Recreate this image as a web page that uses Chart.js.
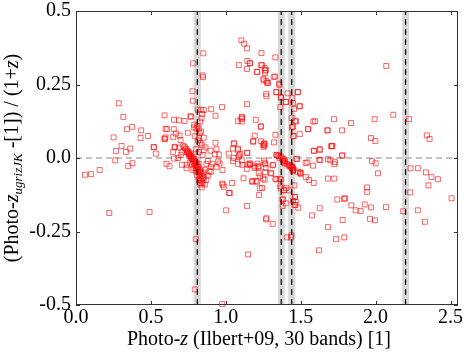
<!DOCTYPE html>
<html>
<head>
<meta charset="utf-8">
<script src="https://cdn.jsdelivr.net/npm/chart.js@4/dist/chart.umd.min.js"></script>
<style>
  html, body { margin: 0; padding: 0; background: #fff; }
  #wrap { width: 464px; height: 354px; }
</style>
</head>
<body>
<div id="wrap"><canvas id="c" width="464" height="354"></canvas></div>
<script>
// photo-z comparison: x = Ilbert+09 (30 bands), y = normalised difference

const X_TICKS = [0, 0.5, 1.0, 1.5, 2.0, 2.5];
const Y_TICKS = [-0.5, -0.25, 0, 0.25, 0.5];
const FEATURE_Z = [0.81, 1.37, 1.44, 2.2];   // dashed vertical markers

// [photo-z 30 bands, (photo-z ugrizJK - z)/(1+z)]
const lowZ = [
  [0.06,-0.057],[0.10,-0.055],[0.158,-0.041],[0.222,-0.187],[0.491,-0.184],
  [0.285,0.186],[0.316,0.140],[0.34,0.098],[0.375,0.106],[0.251,0.070],[0.435,0.094],
  [0.431,0.068],[0.48,0.075],[0.52,0.037],[0.591,0.145],[0.59,0.066],[0.597,0.07],
  [0.607,0.098],[0.653,0.098],[0.655,0.130],[0.687,0.128],[0.724,0.126],[0.667,0.083],
  [0.691,0.076],[0.698,0.061],[0.658,0.036],[0.689,0.035],[0.267,0.024],[0.304,0.041],
  [0.333,0.021],[0.362,0.032],[0.533,0.015],[0.518,0.037],[0.262,-0.008],[0.349,-0.027],
  [0.376,-0.018],[0.604,-0.02],[0.624,-0.028],[0.655,-0.002],[0.647,0.02],[0.707,-0.023],
  [0.738,-0.023],[0.738,-0.035],[0.778,-0.04],[0.716,0.041],[0.70,0.01],[0.68,0.0],
  [0.71,0.02],[0.593,0.064],[0.649,0.072],[0.66,0.038],[0.598,0.099]
];

const peakZ = [
  [0.747,0.086],[0.767,0.140],[0.78,0.195],[0.778,0.227],[0.782,0.322],[0.813,0.164],
  [0.836,0.164],[0.845,0.281],[0.848,0.275],[0.85,0.356],[0.793,0.074],[0.822,0.069],
  [0.789,0.104],[0.811,0.109],[0.842,0.150],[0.838,0.135],[0.827,0.124],[0.804,0.1],
  [0.82,0.1],[0.789,0.113],[0.764,0.142],[0.853,0.163],[0.902,0.166],[0.975,0.173],
  [0.931,0.144],[0.853,0.069],[0.864,0.036],[0.931,0.052],[0.938,0.03],[0.898,0.025],
  [0.853,0.026],[0.953,0.012],[0.927,0.012],[0.815,0.06],[0.83,0.05],[0.825,0.085],
  [0.835,0.09],[0.84,0.045],[0.8,0.03],[0.82,0.02],[0.845,0.01],
  [0.725,0.038],[0.73,0.032],[0.735,0.03],[0.74,0.025],[0.742,0.02],[0.748,0.022],
  [0.75,0.015],[0.755,0.012],[0.758,0.018],[0.76,0.008],[0.765,0.005],[0.768,0.012],
  [0.77,0.0],[0.775,-0.004],[0.778,0.004],[0.78,-0.008],[0.785,-0.012],[0.788,-0.003],
  [0.79,-0.018],[0.795,-0.01],[0.798,-0.022],[0.80,-0.028],[0.803,-0.015],[0.806,-0.035],
  [0.81,-0.025],[0.812,-0.04],[0.815,-0.03],[0.818,-0.048],[0.82,-0.02],[0.822,-0.055],
  [0.825,-0.04],[0.828,-0.062],[0.83,-0.05],[0.833,-0.07],[0.836,-0.045],[0.838,-0.078],
  [0.84,-0.06],[0.845,-0.085],[0.848,-0.07],[0.85,-0.05],[0.855,-0.065],[0.86,-0.04],
  [0.8,-0.045],[0.79,-0.035],[0.775,-0.02],[0.81,-0.06],[0.82,-0.075],[0.83,-0.09],
  [0.84,-0.1],[0.76,-0.015],[0.833,-0.085],[0.86,-0.09],[0.87,-0.075],[0.88,-0.06],
  [0.89,-0.045],[0.9,-0.03],[0.87,-0.02],[0.88,-0.01],[0.91,-0.02],[0.949,-0.012],
  [0.938,-0.03],[0.978,-0.041],[0.9,-0.047],[0.958,-0.019],
  [0.8,-0.276],[0.793,-0.447],[0.976,-0.497],[0.976,-0.087],[1.022,-0.119],[1.002,-0.178]
];

const midZ = [
  [1.02,0.015],[1.056,0.049],[1.047,0.032],[1.082,0.032],[1.096,0.014],[1.144,0.017],
  [1.084,0.003],[1.047,-0.011],[1.082,-0.02],[1.109,-0.023],[1.149,-0.023],[1.158,-0.021],
  [1.14,-0.037],[1.191,-0.034],[1.22,-0.028],[1.26,-0.016],[1.313,-0.025],[1.22,-0.051],
  [1.229,-0.062],[1.249,-0.070],[1.262,-0.048],[1.267,-0.034],[1.30,-0.052],[1.176,-0.081],
  [1.209,-0.081],[1.26,-0.074],[1.118,-0.069],[0.98,-0.091],[0.987,-0.098],[1.042,-0.085],
  [1.027,-0.119],[1.222,-0.126],[1.242,-0.102],[1.142,-0.163],[1.269,-0.209],[1.313,-0.224],
  [1.149,-0.328],[1.331,-0.071],[1.36,-0.071],[1.364,-0.096],[1.387,-0.11],[1.424,-0.11],
  [1.404,-0.102],[1.378,-0.141],[1.38,-0.163],[1.409,-0.27],[1.436,-0.27],[1.438,-0.263],
  [1.458,-0.093],[1.462,-0.133],[1.467,-0.149],[1.46,-0.16],[1.484,-0.169],
  [1.38,-0.005],[1.385,-0.01],[1.39,-0.008],[1.388,-0.015],[1.395,-0.012],[1.383,-0.002],
  [1.392,-0.018],[1.43,-0.025],[1.436,-0.028],[1.44,-0.032],[1.445,-0.03],[1.45,-0.036],
  [1.453,-0.04],[1.447,-0.045],[1.37,0.005],[1.36,0.0],[1.35,0.008],[1.34,0.011],
  [1.338,0.01],[1.41,-0.02],[1.42,-0.025],
  [1.304,-0.052],[1.338,-0.073],[1.367,-0.073],[1.178,-0.078],[1.2,-0.078],[1.227,-0.103],
  [1.271,-0.205],[1.367,-0.103],[1.389,-0.109],[1.382,-0.141],[1.4,-0.154],[1.449,-0.146],
  [1.464,-0.16],[1.46,-0.132],[1.427,-0.029],[1.442,-0.035],[1.449,-0.041],[1.482,-0.047],
  [1.498,-0.054],[1.16,-0.018],[1.216,-0.03],
  [1.142,0.373],[1.122,0.389],[1.104,0.40],[1.144,0.33],[1.162,0.323],[1.142,0.303],
  [1.087,0.316],[1.142,0.183],[1.082,0.125],[1.104,0.133],[1.107,0.14],[1.2,0.13],
  [1.236,0.108],[1.193,0.076],[1.182,0.055],[1.25,0.044],[1.255,0.048],[1.26,0.042],
  [1.252,0.038],[1.258,0.05],[1.322,0.053],[1.331,0.079],[1.053,0.05],[1.08,0.028],
  [1.053,0.0],[1.089,0.009],[1.107,-0.008],[1.142,0.018],[1.164,-0.023],[1.196,-0.029],
  [1.211,-0.019],[1.256,-0.009],[1.264,-0.021],[1.316,-0.023],[1.351,0.006],
  [1.238,0.357],[1.236,0.316],[1.211,0.293],[1.262,0.297],[1.253,0.264],[1.276,0.256],
  [1.282,0.255],[1.269,0.218],[1.329,0.277],[1.331,0.342],[1.338,0.224],[1.251,0.269],
  [1.271,0.261],[1.32,0.276],[1.271,0.21],[1.26,0.306],[1.269,0.3],[1.207,0.293],
  [1.16,0.322],[1.242,0.315],[1.262,0.289],[1.109,0.137],[1.107,0.124],[1.233,0.106],
  [1.236,0.057],[1.184,0.058],
  [1.369,0.205],[1.364,0.173],[1.358,0.249],[1.4,0.191],[1.413,0.22],[1.356,0.253],
  [1.336,0.224],[1.367,0.207],[1.402,0.19],[1.48,0.224],[1.482,0.224],[1.491,0.176],
  [1.496,0.176],[1.456,0.167],[1.449,0.186],[1.444,0.204],[1.44,0.136],[1.469,0.124],
  [1.462,0.127],[1.449,0.107],[1.442,0.104],[1.451,0.075],[1.453,0.074],[1.493,0.081]
];

const highZ = [
  [1.471,-0.003],[1.533,-0.017],[1.582,-0.026],[1.624,-0.006],[1.682,-0.004],[1.498,-0.051],
  [1.536,-0.065],[1.556,-0.075],[1.587,-0.085],[1.682,-0.07],[1.627,-0.171],[1.576,-0.195],
  [1.682,-0.235],[1.622,-0.314],[1.729,-0.014],[1.724,-0.021],[1.724,-0.07],[1.976,-0.011],
  [2.0,-0.018],[2.016,-0.052],[1.942,-0.1],[1.944,-0.115],[1.744,-0.141],[1.789,-0.139],
  [1.796,-0.137],[1.838,-0.161],[1.867,-0.178],[1.9,-0.180],[1.927,-0.158],[1.969,-0.168],
  [2.069,-0.167],[1.78,-0.211],[1.962,-0.207],[1.996,-0.212],[1.736,-0.276],[1.791,-0.27],
  [2.233,-0.035],[2.282,-0.035],[2.336,-0.049],[2.373,-0.065],[2.416,-0.072],[2.353,-0.093],
  [2.231,-0.117],[2.184,-0.181],[2.282,-0.178],[2.329,-0.217],[2.507,-0.137],
  [2.071,0.313],[1.722,0.132],[1.836,0.119],[1.993,0.132],[2.118,0.147],[2.224,0.132],
  [1.776,0.094],[1.969,0.068],[1.998,0.058],[1.711,0.04],[1.776,0.009],[2.342,0.077],
  [2.36,0.065],[1.678,0.094],[1.596,0.125],[1.551,0.099],[1.476,-0.003],[1.496,-0.049],
  [1.544,-0.015],[1.587,0.025],[1.627,0.027],[1.631,-0.007],[1.698,-0.008],[1.709,0.041],
  [1.778,0.008],[1.584,0.124],[1.549,0.098],[1.68,0.094],[1.627,0.031],[1.589,0.024],
  [1.702,0.04]
];

const X_MIN = 0, X_MAX = 2.55, Y_MIN = -0.5, Y_MAX = 0.5;
const SERIF = '"Liberation Serif", "DejaVu Serif", serif';
const POINT_RED = 'rgba(255,0,0,0.6)';

const toXY = arr => arr.map(([x, y]) => ({ x, y }));
const allPoints = [...lowZ, ...peakZ, ...midZ, ...highZ];

const datasets = [];
// dashed marker lines (on top)
FEATURE_Z.forEach(z => datasets.push({
  type: 'line', data: [{ x: z, y: Y_MIN }, { x: z, y: Y_MAX }],
  borderColor: '#000', borderWidth: 1.2, borderDash: [6, 4],
  pointRadius: 0, fill: false, order: 0,
}));
datasets.push({
  type: 'scatter', data: toXY(allPoints),
  pointStyle: 'rect', pointRadius: 3.5, borderWidth: 1,
  borderColor: POINT_RED, backgroundColor: 'rgba(0,0,0,0)',
  clip: false, order: 1,
});
// grey bands behind
FEATURE_Z.forEach(z => datasets.push({
  type: 'line', data: [{ x: z, y: Y_MIN }, { x: z, y: Y_MAX }],
  borderColor: 'rgba(190,190,190,0.6)', borderWidth: 7,
  pointRadius: 0, fill: false, order: 2,
}));
datasets.push({
  type: 'line', data: [{ x: X_MIN, y: 0 }, { x: X_MAX, y: 0 }],
  borderColor: '#888', borderWidth: 1, borderDash: [6, 4],
  pointRadius: 0, fill: false, order: 3,
});

function drawRich(ctx, parts, x, y) {
  const fontOf = p => (p.it ? 'italic ' : '') + (p.sub ? 13 : 20) + 'px ' + SERIF;
  let total = 0;
  parts.forEach(p => { ctx.font = fontOf(p); total += ctx.measureText(p.t).width; });
  let cx = x - total / 2;
  parts.forEach(p => {
    ctx.font = fontOf(p);
    ctx.fillText(p.t, cx, y + (p.sub ? 4 : 0));
    cx += ctx.measureText(p.t).width;
  });
}

const framePlugin = {
  id: 'frame',
  afterDraw(chart) {
    const { ctx, chartArea: a, scales } = chart;
    ctx.save();
    ctx.strokeStyle = '#333';
    ctx.lineWidth = 1;
    ctx.strokeRect(a.left + 0.5, a.top + 0.5, a.right - a.left - 1, a.bottom - a.top - 1);
    ctx.beginPath();
    X_TICKS.forEach(v => {
      const px = Math.round(scales.x.getPixelForValue(v)) + 0.5;
      ctx.moveTo(px, a.bottom); ctx.lineTo(px, a.bottom - 4);
      ctx.moveTo(px, a.top); ctx.lineTo(px, a.top + 4);
    });
    Y_TICKS.forEach(v => {
      const py = Math.round(scales.y.getPixelForValue(v)) + 0.5;
      ctx.moveTo(a.left, py); ctx.lineTo(a.left + 4, py);
      ctx.moveTo(a.right, py); ctx.lineTo(a.right - 4, py);
    });
    ctx.stroke();

    ctx.fillStyle = '#000';
    ctx.textBaseline = 'alphabetic';
    ctx.textAlign = 'left';
    drawRich(ctx, [
      { t: 'Photo-' }, { t: 'z', it: true }, { t: ' (Ilbert+09, 30 bands) [1]' }
    ], 259, 345);

    ctx.translate(18, (a.top + a.bottom) / 2);
    ctx.rotate(-Math.PI / 2);
    drawRich(ctx, [
      { t: '(Photo-' }, { t: 'z', it: true }, { t: 'ugrizJK', it: true, sub: true },
      { t: ' -[1]) / (1+' }, { t: 'z', it: true }, { t: ')' }
    ], 0, 0);
    ctx.restore();
  }
};

new Chart(document.getElementById('c'), {
  type: 'scatter',
  data: { datasets },
  plugins: [framePlugin],
  options: {
    responsive: false, animation: false,
    layout: { padding: { top: 11, right: 6, left: 0, bottom: 0 } },
    plugins: { legend: { display: false }, tooltip: { enabled: false } },
    scales: {
      x: {
        type: 'linear', min: X_MIN, max: X_MAX,
        afterBuildTicks: s => { s.ticks = X_TICKS.map(v => ({ value: v })); },
        afterFit: s => { s.height = 49; s.paddingLeft = 0; s.paddingRight = 0; },
        grid: { display: false, drawTicks: false },
        border: { display: false },
        ticks: {
          padding: 1, color: '#000', maxRotation: 0,
          font: { family: SERIF, size: 20 },
          callback: v => Number(v).toFixed(1),
        },
      },
      y: {
        type: 'linear', min: Y_MIN, max: Y_MAX,
        afterBuildTicks: s => { s.ticks = Y_TICKS.map(v => ({ value: v })); },
        afterFit: s => { s.width = 76; s.paddingTop = 0; s.paddingBottom = 0; },
        grid: { display: false, drawTicks: false },
        border: { display: false },
        ticks: {
          padding: 5, color: '#000',
          font: { family: SERIF, size: 20 },
          callback: v => (Number.isInteger(v * 2) ? Number(v).toFixed(1) : Number(v).toFixed(2)),
        },
      },
    },
  },
});
</script>
</body>
</html>
